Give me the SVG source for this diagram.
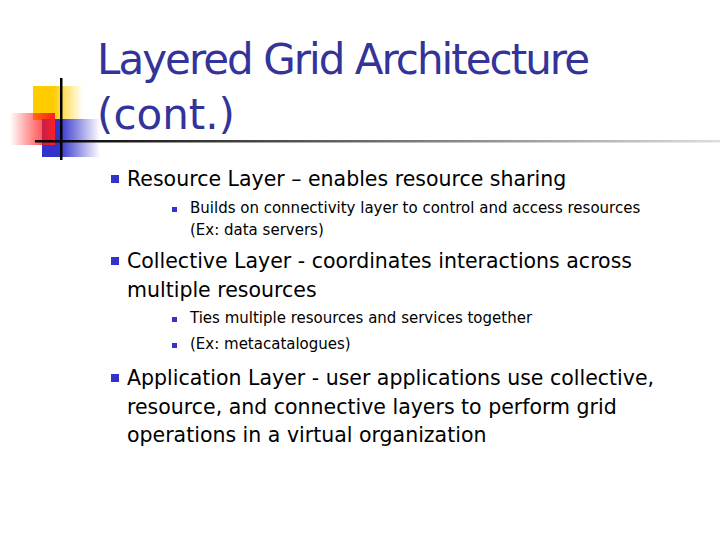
<svg xmlns="http://www.w3.org/2000/svg" width="720" height="540" viewBox="0 0 720 540">
<defs>
<linearGradient id="gy" x1="0" x2="1"><stop offset="0.4" stop-color="#ffcc00"/><stop offset="1" stop-color="#ffcc00" stop-opacity="0"/></linearGradient>
<linearGradient id="gr" x1="0" x2="1"><stop offset="0" stop-color="#ff0000" stop-opacity="0"/><stop offset="1" stop-color="#ff2020"/></linearGradient>
<linearGradient id="gb" x1="0" x2="1"><stop offset="0.3" stop-color="#3333cc"/><stop offset="1" stop-color="#3333cc" stop-opacity="0"/></linearGradient>
<linearGradient id="gl" x1="0" x2="1"><stop offset="0" stop-color="#000"/><stop offset="1" stop-color="#ddd"/></linearGradient>
<style>
.t{font-family:"DejaVu Sans",Verdana,sans-serif;fill:#333399;font-size:42px}
.b{font-family:"DejaVu Sans",Verdana,sans-serif;fill:#000;font-size:20.5px}
.s{font-family:"DejaVu Sans",Verdana,sans-serif;fill:#000;font-size:15px}
.m{fill:#3333cc}
</style>
</defs>
<rect width="720" height="540" fill="#fff"/>
<g id="logo">
<rect x="33" y="86" width="50" height="34" fill="url(#gy)"/>
<rect x="42" y="119" width="58" height="38" fill="url(#gb)"/>
<rect x="10" y="113" width="45" height="32" fill="url(#gr)"/>
<rect x="60" y="78" width="2.5" height="82" fill="#000"/>
<rect x="35" y="140" width="685" height="2.5" fill="url(#gl)"/>
</g>
<g id="title">
<text class="t" x="97" y="74" textLength="493">Layered Grid Architecture</text>
<text class="t" x="97" y="129">(cont.)</text>
</g>
<g id="body">
<rect class="m" x="111" y="175" width="8" height="8"/>
<text class="b" x="127" y="186">Resource Layer – enables resource sharing</text>
<rect class="m" x="172" y="207" width="5" height="5"/>
<text class="s" x="190" y="213">Builds on connectivity layer to control and access resources</text>
<text class="s" x="190" y="235">(Ex: data servers)</text>
<rect class="m" x="111" y="257" width="8" height="8"/>
<text class="b" x="127" y="268">Collective Layer - coordinates interactions across</text>
<text class="b" x="127" y="297">multiple resources</text>
<rect class="m" x="172" y="317" width="5" height="5"/>
<text class="s" x="190" y="323">Ties multiple resources and services together</text>
<rect class="m" x="172" y="343" width="5" height="5"/>
<text class="s" x="190" y="349">(Ex: metacatalogues)</text>
<rect class="m" x="111" y="374" width="8" height="8"/>
<text class="b" x="127" y="385">Application Layer - user applications use collective,</text>
<text class="b" x="127" y="414">resource, and connective layers to perform grid</text>
<text class="b" x="127" y="442">operations in a virtual organization</text>
</g>
</svg>
